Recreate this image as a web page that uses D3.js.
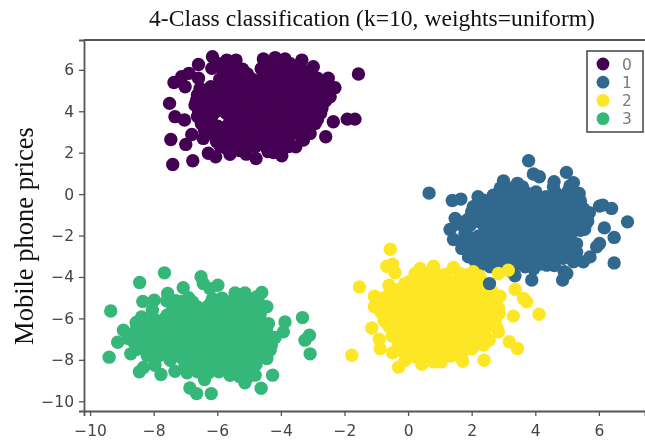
<!DOCTYPE html>
<html>
<head>
<meta charset="utf-8">
<script src="https://cdn.jsdelivr.net/npm/d3@7"></script>
<style>
  html, body { margin: 0; background: #fff; }
  svg { display: block; filter: blur(0.4px); }
</style>
</head>
<body>
<svg id="chart" width="645" height="444"></svg>
<script>
const classes = ["0", "1", "2", "3"];
const colors = ["#440154", "#31688e", "#fde725", "#35b779"];
const xTicks = [-10, -8, -6, -4, -2, 0, 2, 4, 6];
const yTicks = [-10, -8, -6, -4, -2, 0, 2, 4, 6];

// points, stragglers first then the dense middle
const class0 = [
  [-6.15,6.63],[-6.59,6.26],[-1.56,5.80],[-7.50,4.38],[-7.33,3.74],[-7.03,3.58],[-7.46,2.64],[-6.80,2.88],
  [-6.99,2.40],[-7.40,1.43],[-6.77,1.61],[-6.28,1.97],[-6.05,1.80],[-5.60,1.92],[-5.09,1.93],[-4.78,1.72],
  [-3.97,1.85],[-4.23,2.01],[-3.53,2.29],[-2.59,2.77],[-2.35,3.49],[-1.91,3.62],[-1.67,3.62],[-7.36,5.39],
  [-7.12,5.67],[-6.89,5.83],[-6.59,5.59],[-7.01,5.18],[-3.34,6.47],[-2.98,6.15],[-2.51,5.59],[-2.30,5.14],
  [-2.45,4.70],[-2.71,4.14],[-2.92,3.41],[-3.08,2.93],[-3.29,2.61],[-5.70,6.47],[-5.41,6.47],[-4.55,6.52],
  [-4.18,6.59],[-3.87,6.52],[-6.17,6.07],[-6.44,2.69],[-6.02,2.53],[-6.65,4.54],[-6.59,4.06],[-6.54,5.10],
  [-2.66,5.19],[-3.19,5.59],
  [-5.85,6.02],[-5.52,5.97],[-5.20,6.03],[-4.62,6.05],[-4.30,6.01],[-3.95,6.06],[-3.62,5.98],[-3.30,5.95],
  [-5.92,5.55],[-5.60,5.62],[-5.28,5.58],[-4.95,5.60],[-4.62,5.56],[-4.30,5.63],[-3.98,5.57],[-3.65,5.60],
  [-6.20,5.18],[-5.88,5.15],[-5.55,5.20],[-5.22,5.14],[-4.90,5.18],[-4.58,5.13],[-4.25,5.20],[-3.92,5.15],[-3.60,5.18],[-3.28,5.12],[-2.98,5.20],
  [-6.40,4.75],[-6.05,4.72],[-5.72,4.78],[-5.40,4.72],[-5.08,4.76],[-4.75,4.71],[-4.42,4.78],[-4.10,4.72],[-3.78,4.76],[-3.45,4.72],[-3.12,4.78],[-2.85,4.72],
  [-6.50,4.32],[-6.20,4.35],[-5.88,4.30],[-5.55,4.35],[-5.22,4.30],[-4.90,4.34],[-4.58,4.30],[-4.25,4.36],[-3.92,4.30],[-3.60,4.34],[-3.28,4.30],[-2.98,4.33],
  [-6.38,3.92],[-6.05,3.98],[-5.72,3.90],[-5.40,3.94],[-5.08,3.88],[-4.75,3.93],[-4.42,3.88],[-4.10,3.94],[-3.78,3.90],[-3.45,3.95],[-3.12,3.88],
  [-6.28,3.45],[-5.60,3.50],[-5.25,3.46],[-4.92,3.50],[-4.60,3.45],[-4.28,3.50],[-3.95,3.46],[-3.62,3.50],[-3.30,3.46],[-3.02,3.52],
  [-6.18,3.08],[-5.85,3.05],[-5.50,3.10],[-5.18,3.04],[-4.85,3.08],[-4.52,3.03],[-4.20,3.08],[-3.88,3.04],[-3.55,3.08],[-3.22,3.02],
  [-5.78,2.65],[-5.42,2.62],[-5.08,2.67],[-4.75,2.62],[-4.42,2.66],[-4.10,2.60],[-3.78,2.65],
  [-5.50,2.28],[-5.15,2.25],[-4.80,2.30],[-4.45,2.24],[-4.10,2.28],
  // second pass over the solid core
  [-5.72,5.82],[-5.05,5.80],[-4.45,5.82],[-4.12,5.80],[-3.80,5.82],[-3.45,5.78],
  [-5.75,5.38],[-5.42,5.35],[-5.10,5.40],[-4.78,5.36],[-4.45,5.40],[-4.12,5.35],[-3.78,5.38],[-3.45,5.36],[-3.12,5.38],
  [-6.22,4.95],[-5.90,4.92],[-5.58,4.98],[-5.25,4.93],[-4.92,4.97],[-4.60,4.92],[-4.28,4.98],[-3.95,4.94],[-3.62,4.97],[-3.30,4.92],[-2.98,4.95],
  [-6.35,4.52],[-6.02,4.55],[-5.70,4.50],[-5.38,4.55],[-5.05,4.52],[-4.72,4.55],[-4.40,4.50],[-4.08,4.55],[-3.75,4.52],[-3.42,4.55],[-3.10,4.50],
  [-6.25,4.12],[-5.92,4.15],[-5.60,4.10],[-5.28,4.15],[-4.95,4.12],[-4.62,4.15],[-4.30,4.10],[-3.98,4.15],[-3.65,4.12],[-3.32,4.15],[-3.02,4.10],
  [-6.18,3.72],[-5.50,3.72],[-5.18,3.68],[-4.85,3.72],[-4.52,3.68],[-4.20,3.72],[-3.88,3.68],[-3.55,3.72],[-3.22,3.68],
  [-5.98,3.28],[-5.68,3.30],[-5.35,3.26],[-5.02,3.30],[-4.70,3.26],[-4.38,3.30],[-4.05,3.26],[-3.72,3.30],[-3.40,3.26],
  [-5.65,2.85],[-5.32,2.85],[-5.00,2.88],[-4.68,2.83],[-4.35,2.87],[-4.02,2.83],[-3.70,2.87],[-3.38,2.83],
  [-5.30,2.45],[-4.95,2.46],[-4.62,2.43],[-4.28,2.46],[-3.95,2.43],
  // edge of the blob
  [-6.62,4.80],[-6.70,4.30],[-6.62,3.75],[-6.50,3.40],[-6.40,3.10],[-5.95,6.30],[-5.60,6.25],[-4.40,6.30],
  [-4.00,6.30],[-3.70,6.30],[-3.40,6.20],[-3.10,5.90],[-2.85,5.60],[-2.70,4.75],[-2.60,4.50],[-2.75,3.90],
  [-2.85,3.60],[-6.10,2.85],[-5.90,2.30],[-5.70,2.20],[-3.75,2.30],[-3.20,2.90],[-5.30,2.10],[-4.40,2.05]
];

const class1 = [
  [3.79,1.61],[0.66,0.05],[4.98,1.05],[3.94,0.97],[4.13,0.84],[3.00,0.64],[3.44,0.52],[4.59,0.60],
  [4.57,0.35],[5.20,0.55],[5.09,0.39],[1.39,-0.31],[1.66,-0.24],[6.02,-0.58],[6.12,-0.53],[6.40,-0.69],
  [6.90,-1.34],[6.17,-1.63],[6.48,-2.09],[6.02,-2.38],[5.93,-2.54],[6.48,-3.32],[5.72,-3.03],[5.51,-3.27],
  [5.20,-3.27],[4.99,-3.83],[4.86,-4.15],[4.91,-3.75],[3.89,-4.15],[3.36,-3.94],[1.48,-1.18],[1.32,-1.71],
  [1.43,-2.19],[1.74,-1.34],[1.79,-1.90],[1.69,-2.62],[1.90,-3.03],[2.05,-0.61],[2.00,-0.85],[2.37,-0.29],
  [2.68,-0.05],[2.58,-3.51],[3.68,-3.51],[4.36,-3.43],
  [3.05,0.12],[3.38,0.15],[3.70,0.08],[4.02,0.10],[4.65,0.05],[5.02,0.10],[5.38,0.03],
  [2.55,-0.32],[2.88,-0.28],[3.20,-0.33],[3.52,-0.27],[3.85,-0.33],[4.18,-0.38],[4.50,-0.30],[4.82,-0.35],[5.15,-0.28],[5.42,-0.33],
  [2.28,-0.72],[2.60,-0.76],[2.92,-0.70],[3.25,-0.75],[3.58,-0.70],[3.90,-0.76],[4.22,-0.71],[4.55,-0.77],[4.88,-0.70],[5.20,-0.75],[5.52,-0.72],
  [2.22,-1.12],[2.55,-1.15],[2.88,-1.10],[3.20,-1.16],[3.52,-1.10],[3.85,-1.15],[4.18,-1.10],[4.50,-1.16],[4.82,-1.10],[5.15,-1.14],[5.48,-1.10],
  [2.40,-1.55],[2.72,-1.50],[3.05,-1.56],[3.38,-1.50],[3.70,-1.55],[4.02,-1.50],[4.35,-1.56],[4.68,-1.50],[5.00,-1.55],[5.32,-1.50],[5.60,-1.42],
  [2.22,-2.02],[2.55,-1.92],[2.88,-1.97],[3.20,-1.92],[3.52,-1.98],[3.85,-1.92],[4.18,-1.97],[4.50,-1.92],[4.82,-1.98],[5.12,-1.92],
  [2.25,-2.35],[2.58,-2.32],[2.90,-2.38],[3.22,-2.32],[3.55,-2.38],[3.88,-2.32],[4.20,-2.38],[4.52,-2.32],[4.85,-2.38],[5.15,-2.35],
  [2.32,-2.75],[2.65,-2.78],[2.98,-2.72],[3.30,-2.78],[3.62,-2.72],[3.95,-2.78],[4.28,-2.72],[4.60,-2.78],[4.92,-2.72],[5.22,-2.78],
  [2.65,-3.15],[2.98,-3.12],[3.30,-3.18],[3.62,-3.12],[3.95,-3.18],[4.28,-3.12],[4.60,-3.16],[4.88,-3.10],
  // second pass over the solid core
  [2.72,-0.15],[3.05,-0.10],[3.38,-0.12],[3.70,-0.08],[4.35,-0.12],[4.68,-0.10],[5.00,-0.12],[5.30,-0.10],
  [2.42,-0.52],[2.75,-0.55],[3.08,-0.50],[3.40,-0.55],[3.72,-0.50],[4.05,-0.55],[4.38,-0.50],[4.70,-0.55],[5.02,-0.50],[5.35,-0.55],
  [2.38,-0.95],[2.70,-0.92],[3.02,-0.96],[3.35,-0.92],[3.68,-0.96],[4.00,-0.92],[4.32,-0.96],[4.65,-0.92],[4.98,-0.96],[5.30,-0.92],[5.58,-0.95],
  [2.25,-1.32],[2.58,-1.35],[2.90,-1.30],[3.22,-1.35],[3.55,-1.30],[3.88,-1.35],[4.20,-1.30],[4.52,-1.35],[4.85,-1.30],[5.18,-1.35],[5.50,-1.30],
  [2.55,-1.72],[2.88,-1.75],[3.20,-1.70],[3.52,-1.75],[3.85,-1.70],[4.18,-1.75],[4.50,-1.70],[4.82,-1.75],[5.15,-1.70],[5.42,-1.75],
  [2.40,-2.18],[2.72,-2.15],[3.05,-2.18],[3.38,-2.15],[3.70,-2.18],[4.02,-2.15],[4.35,-2.18],[4.68,-2.15],[5.00,-2.18],
  [2.45,-2.55],[2.78,-2.55],[3.10,-2.58],[3.42,-2.55],[3.75,-2.58],[4.08,-2.55],[4.40,-2.58],[4.72,-2.55],[5.05,-2.58],
  [2.48,-2.95],[2.82,-2.95],[3.15,-2.92],[3.48,-2.96],[3.80,-2.92],[4.12,-2.96],[4.45,-2.92],[4.78,-2.96],[5.08,-2.92],
  [2.85,-3.35],[3.18,-3.35],[3.50,-3.38],[3.82,-3.35],[4.15,-3.38],[4.48,-3.33],
  // edge of the blob
  [1.90,-1.20],[1.70,-2.30],[1.95,-2.10],[2.00,-2.50],[1.95,-2.80],[2.10,-3.20],[2.30,-3.40],[1.55,-1.45],
  [1.95,-1.50],[2.18,-1.30],[2.20,-0.13],[2.90,0.30],[3.30,0.30],[3.60,0.35],[5.70,-0.90],[5.65,-1.30],
  [5.55,-1.70],[5.30,-2.40],[5.30,-2.80],[5.20,-3.10],[2.90,-3.60],[3.20,-3.70],[3.95,-3.60],[4.60,-3.45]
];

// this one sits over the yellow points in the reference
const class1Late = [[2.56,-4.32]];

const class2 = [
  [-0.56,-2.66],[-0.67,-3.48],[-0.49,-3.38],[-0.41,-3.80],[-1.53,-4.48],[-0.60,-4.40],[-1.06,-4.93],[-1.06,-5.44],
  [-1.14,-6.46],[-0.91,-7.00],[-0.88,-7.46],[-1.77,-7.78],[-0.49,-7.66],[-0.30,-8.36],[-0.09,-8.02],[0.43,-8.21],
  [0.80,-8.10],[1.04,-8.10],[1.72,-8.07],[2.39,-8.02],[2.37,-7.29],[2.55,-7.05],[2.79,-6.44],[2.84,-6.65],
  [3.18,-7.13],[3.44,-7.45],[3.31,-5.89],[4.12,-5.80],[3.37,-4.60],[3.63,-5.04],[3.73,-5.20],[2.89,-4.93],
  [2.86,-5.76],[2.84,-3.83],[3.15,-3.67],[2.05,-3.75],[1.43,-3.54],[0.80,-3.48],[0.38,-3.59],
  [0.22,-3.83],[1.63,-3.83],[-0.10,-4.32],
  [0.55,-3.85],[0.88,-3.82],[1.20,-3.86],[1.85,-3.90],[2.25,-3.95],
  [0.05,-4.22],[0.38,-4.18],[0.70,-4.24],[1.02,-4.18],[1.35,-4.24],[1.68,-4.20],[2.00,-4.25],[2.32,-4.18],
  [-0.32,-4.62],[0.02,-4.66],[0.35,-4.60],[0.68,-4.65],[1.00,-4.60],[1.32,-4.66],[1.65,-4.60],[1.98,-4.65],[2.30,-4.60],[2.62,-4.65],
  [-0.80,-5.02],[-0.48,-5.05],[-0.15,-5.00],[0.18,-5.05],[0.50,-5.00],[0.82,-5.06],[1.15,-5.00],[1.48,-5.05],[1.80,-5.00],[2.12,-5.06],[2.45,-5.00],[2.70,-5.08],
  [-0.88,-5.45],[-0.55,-5.40],[-0.22,-5.46],[0.10,-5.40],[0.42,-5.46],[0.75,-5.40],[1.08,-5.46],[1.40,-5.40],[1.72,-5.46],[2.05,-5.40],[2.38,-5.46],[2.70,-5.40],
  [-0.75,-5.85],[-0.42,-5.80],[-0.10,-5.86],[0.22,-5.80],[0.55,-5.86],[0.88,-5.80],[1.20,-5.86],[1.52,-5.80],[1.85,-5.86],[2.18,-5.80],[2.50,-5.85],
  [-0.68,-6.22],[-0.35,-6.26],[-0.02,-6.20],[0.30,-6.26],[0.62,-6.20],[0.95,-6.26],[1.28,-6.20],[1.60,-6.26],[1.92,-6.20],[2.25,-6.26],
  [-0.48,-6.65],[-0.15,-6.62],[0.18,-6.68],[0.50,-6.62],[0.82,-6.68],[1.15,-6.62],[1.48,-6.68],[1.80,-6.62],[2.12,-6.66],
  [-0.32,-7.05],[0.02,-7.10],[0.32,-7.02],[0.65,-7.08],[0.98,-7.02],[1.30,-7.08],[1.62,-7.02],[1.95,-7.08],
  [-0.30,-7.54],[0.02,-7.58],[0.38,-7.45],[0.70,-7.50],[1.02,-7.44],[1.35,-7.50],[1.68,-7.44],[2.00,-7.48],
  [0.22,-7.85],[0.55,-7.80],[1.35,-7.82],[1.68,-7.78],
  // second pass over the solid core
  [0.22,-4.42],[0.55,-4.42],[0.88,-4.45],[1.20,-4.42],[1.52,-4.45],[1.85,-4.42],[2.18,-4.45],[2.50,-4.40],
  [-0.60,-4.82],[-0.28,-4.85],[0.05,-4.82],[0.38,-4.85],[0.70,-4.82],[1.02,-4.85],[1.35,-4.82],[1.68,-4.85],[2.00,-4.82],[2.32,-4.85],[2.62,-4.85],
  [-0.70,-5.22],[-0.38,-5.25],[-0.05,-5.22],[0.28,-5.25],[0.60,-5.22],[0.92,-5.25],[1.25,-5.22],[1.58,-5.25],[1.90,-5.22],[2.22,-5.25],[2.55,-5.22],
  [-0.62,-5.62],[-0.30,-5.65],[0.02,-5.62],[0.35,-5.65],[0.68,-5.62],[1.00,-5.65],[1.32,-5.62],[1.65,-5.65],[1.98,-5.62],[2.30,-5.65],[2.62,-5.62],
  [-0.55,-6.02],[-0.22,-6.05],[0.10,-6.02],[0.42,-6.05],[0.75,-6.02],[1.08,-6.05],[1.40,-6.02],[1.72,-6.05],[2.05,-6.02],[2.38,-6.05],
  [-0.35,-6.45],[0.00,-6.42],[0.32,-6.45],[0.65,-6.42],[0.98,-6.45],[1.30,-6.42],[1.62,-6.45],[1.95,-6.42],[2.28,-6.45],
  [0.15,-6.88],[0.48,-6.85],[0.80,-6.88],[1.12,-6.85],[1.45,-6.88],[1.78,-6.85],[2.08,-6.88],
  [0.18,-7.25],[0.50,-7.28],[0.82,-7.25],[1.15,-7.28],[1.48,-7.25],[1.80,-7.28],[2.12,-7.25],
  [0.38,-7.68],[0.70,-7.70],[1.02,-7.68],[1.50,-7.66],
  // edge of the blob
  [-1.00,-5.00],[-0.95,-5.30],[-0.85,-5.70],[-0.75,-6.10],[-0.60,-6.40],[-0.50,-6.85],[-0.30,-7.20],[0.20,-7.55],
  [2.80,-5.00],[2.85,-5.50],[2.75,-6.05],[2.55,-6.30],[2.40,-6.70],[2.35,-7.00],[2.20,-7.20]
];

const class3 = [
  [-7.66,-3.80],[-8.44,-4.27],[-9.35,-5.64],[-6.51,-3.99],[-6.44,-4.32],[-5.98,-4.40],[-6.23,-4.56],[-7.07,-4.52],
  [-7.56,-4.80],[-7.59,-5.15],[-8.34,-5.18],[-7.98,-5.12],[-8.04,-5.60],[-5.44,-4.77],[-5.13,-4.77],[-4.60,-4.75],
  [-4.76,-4.96],[-4.44,-5.44],[-3.32,-5.96],[-3.87,-6.17],[-3.92,-6.65],[-4.18,-6.92],[-3.10,-6.81],[-3.24,-7.05],
  [-3.08,-7.71],[-4.26,-8.74],[-4.62,-9.37],[-5.13,-9.11],[-4.81,-8.74],[-6.19,-9.63],[-6.65,-9.63],[-6.86,-9.36],
  [-6.40,-8.95],[-7.33,-8.55],[-7.77,-8.71],[-8.32,-8.37],[-8.45,-8.58],[-7.96,-8.26],[-8.72,-7.71],[-9.40,-7.87],
  [-9.13,-7.15],[-8.95,-6.57],[-8.80,-6.97],[-8.53,-6.41],[-8.38,-5.93],[-7.48,-8.02],[-4.44,-7.94],[-4.34,-7.54],[-4.39,-6.25],
  [-6.90,-5.00],[-6.15,-5.05],[-5.85,-5.02],[-5.45,-5.05],[-5.15,-5.00],[-4.85,-5.08],
  [-7.28,-5.42],[-6.95,-5.38],[-6.62,-5.45],[-6.28,-5.40],[-5.95,-5.45],[-5.62,-5.38],[-5.30,-5.45],[-4.98,-5.40],[-4.65,-5.45],
  [-7.58,-5.85],[-7.25,-5.80],[-6.92,-5.86],[-6.60,-5.80],[-6.28,-5.86],[-5.95,-5.80],[-5.62,-5.86],[-5.30,-5.80],[-4.98,-5.86],[-4.65,-5.80],
  [-8.18,-6.22],[-7.85,-6.28],[-7.52,-6.22],[-7.20,-6.28],[-6.88,-6.22],[-6.55,-6.28],[-6.22,-6.22],[-5.90,-6.28],[-5.58,-6.22],[-5.25,-6.28],[-4.92,-6.22],[-4.60,-6.26],
  [-8.35,-6.66],[-8.02,-6.62],[-7.70,-6.68],[-7.38,-6.62],[-7.05,-6.68],[-6.72,-6.62],[-6.40,-6.68],[-6.08,-6.62],[-5.75,-6.68],[-5.42,-6.62],[-5.10,-6.68],[-4.78,-6.62],[-4.50,-6.68],
  [-8.48,-7.02],[-8.15,-7.08],[-7.82,-7.02],[-7.50,-7.08],[-7.18,-7.02],[-6.85,-7.08],[-6.52,-7.02],[-6.20,-7.08],[-5.88,-7.02],[-5.55,-7.08],[-5.22,-7.02],[-4.90,-7.08],[-4.55,-7.02],
  [-8.38,-7.45],[-8.05,-7.42],[-7.72,-7.48],[-7.40,-7.42],[-7.08,-7.48],[-6.75,-7.42],[-6.42,-7.48],[-6.10,-7.42],[-5.78,-7.48],[-5.45,-7.42],[-5.12,-7.48],[-4.80,-7.42],[-4.48,-7.46],
  [-7.85,-7.82],[-7.52,-7.88],[-7.20,-7.82],[-6.88,-7.88],[-6.55,-7.82],[-6.22,-7.88],[-5.90,-7.82],[-5.58,-7.88],[-5.25,-7.82],[-4.92,-7.88],[-4.65,-7.82],
  [-7.00,-8.25],[-6.68,-8.20],[-6.35,-8.26],[-6.02,-8.20],[-5.70,-8.26],[-5.38,-8.20],[-5.05,-8.26],[-4.78,-8.22],
  [-6.95,-8.62],[-6.62,-8.58],[-6.28,-8.64],[-5.95,-8.58],[-5.62,-8.64],[-5.30,-8.60],[-5.00,-8.64],
  // second pass over the solid core
  [-7.10,-5.18],[-6.78,-5.20],[-5.95,-5.22],[-5.62,-5.20],[-5.30,-5.22],[-4.98,-5.20],[-4.70,-5.22],
  [-7.42,-5.62],[-7.10,-5.60],[-6.78,-5.65],[-6.45,-5.62],[-6.12,-5.65],[-5.80,-5.62],[-5.48,-5.65],[-5.15,-5.62],[-4.82,-5.65],
  [-8.00,-6.02],[-7.68,-6.05],[-7.35,-6.02],[-7.02,-6.05],[-6.70,-6.02],[-6.38,-6.05],[-6.05,-6.02],[-5.72,-6.05],[-5.40,-6.02],[-5.08,-6.05],[-4.75,-6.02],
  [-8.18,-6.45],[-7.85,-6.42],[-7.52,-6.45],[-7.20,-6.42],[-6.88,-6.45],[-6.55,-6.42],[-6.22,-6.45],[-5.90,-6.42],[-5.58,-6.45],[-5.25,-6.42],[-4.92,-6.45],[-4.62,-6.45],
  [-8.18,-6.85],[-7.85,-6.82],[-7.52,-6.85],[-7.20,-6.82],[-6.88,-6.85],[-6.55,-6.82],[-6.22,-6.85],[-5.90,-6.82],[-5.58,-6.85],[-5.25,-6.82],[-4.92,-6.85],[-4.65,-6.82],
  [-8.22,-7.25],[-7.90,-7.22],[-7.58,-7.25],[-7.25,-7.22],[-6.92,-7.25],[-6.60,-7.22],[-6.28,-7.25],[-5.95,-7.22],[-5.62,-7.25],[-5.30,-7.22],[-4.98,-7.25],[-4.65,-7.22],
  [-7.62,-7.65],[-7.30,-7.62],[-6.98,-7.65],[-6.65,-7.62],[-6.32,-7.65],[-6.00,-7.62],[-5.68,-7.65],[-5.35,-7.62],[-5.02,-7.65],[-4.70,-7.62],
  [-7.05,-8.05],[-6.72,-8.02],[-6.40,-8.05],[-6.08,-8.02],[-5.75,-8.05],[-5.42,-8.02],[-5.10,-8.05],[-4.82,-8.02],
  [-6.78,-8.42],[-6.45,-8.40],[-6.12,-8.42],[-5.80,-8.40],[-5.48,-8.42],[-5.15,-8.40],
  // edge of the blob
  [-8.60,-6.70],[-8.60,-7.20],[-8.55,-7.50],[-8.20,-7.80],[-8.55,-6.20],[-7.30,-5.15],[-6.20,-5.25],[-4.30,-7.00],
  [-4.30,-7.30],[-4.45,-6.60],[-4.45,-7.75],[-4.45,-6.30],[-6.40,-8.80],[-5.60,-8.75],[-5.30,-8.80],[-5.05,-8.85]
];

const svg = d3.select("#chart");

const x = d3.scaleLinear().domain([-10.19, 7.45]).range([84, 645]);
const y = d3.scaleLinear().domain([-10.47, 7.44]).range([411, 40]);

// points, drawn in the overlap order seen in the picture
const layers = [[class0, 0], [class3, 3], [class1, 1], [class2, 2], [class1Late, 1]];
layers.forEach(([pts, c]) => {
  svg.append("g")
    .selectAll("circle")
    .data(pts)
    .join("circle")
    .attr("cx", d => x(d[0]))
    .attr("cy", d => y(d[1]))
    .attr("r", 6.7)
    .attr("fill", colors[c]);
});

// axes
const gx = svg.append("g").attr("transform", "translate(0,411)")
  .call(d3.axisBottom(x).tickValues(xTicks).tickSize(5).tickPadding(9).tickFormat(d3.format("d")));
const gy = svg.append("g").attr("transform", "translate(84,0)")
  .call(d3.axisLeft(y).tickValues(yTicks).tickSize(5).tickPadding(5).tickFormat(d3.format("d")));

[gx, gy].forEach(g => {
  g.selectAll("text")
    .attr("font-family", "DejaVu Sans")
    .attr("font-size", 15.5)
    .attr("fill", "#444");
  g.selectAll(".tick line").attr("stroke", "#555").attr("stroke-width", 1.3);
  g.select(".domain").attr("stroke", "#555").attr("stroke-width", 1.8);
});

// top spine only, no right one in the crop
svg.append("line")
  .attr("x1", 84).attr("x2", 645)
  .attr("y1", 40).attr("y2", 40)
  .attr("stroke", "#555").attr("stroke-width", 1.8);

// title and y label
svg.append("text")
  .attr("x", 372).attr("y", 26)
  .attr("text-anchor", "middle")
  .attr("font-family", "Liberation Serif")
  .attr("font-size", 23.6)
  .attr("fill", "#111")
  .text("4-Class classification (k=10, weights=uniform)");

svg.append("text")
  .attr("transform", "translate(33,236) rotate(-90)")
  .attr("text-anchor", "middle")
  .attr("font-family", "Liberation Serif")
  .attr("font-size", 26.5)
  .attr("fill", "#111")
  .text("Mobile phone prices");

// legend
svg.append("rect")
  .attr("x", 587).attr("y", 51)
  .attr("width", 56).attr("height", 81)
  .attr("fill", "#fff")
  .attr("stroke", "#444").attr("stroke-width", 1.5);

const legend = svg.append("g")
  .selectAll("g")
  .data(classes)
  .join("g")
  .attr("transform", (d, i) => `translate(603,${64 + i * 18.2})`);

legend.append("circle")
  .attr("r", 6.4)
  .attr("fill", (d, i) => colors[i]);

legend.append("text")
  .attr("x", 19).attr("y", 5.5)
  .attr("font-family", "DejaVu Sans")
  .attr("font-size", 15.5)
  .attr("fill", "#7a7a7a")
  .text(d => d);
</script>
</body>
</html>
